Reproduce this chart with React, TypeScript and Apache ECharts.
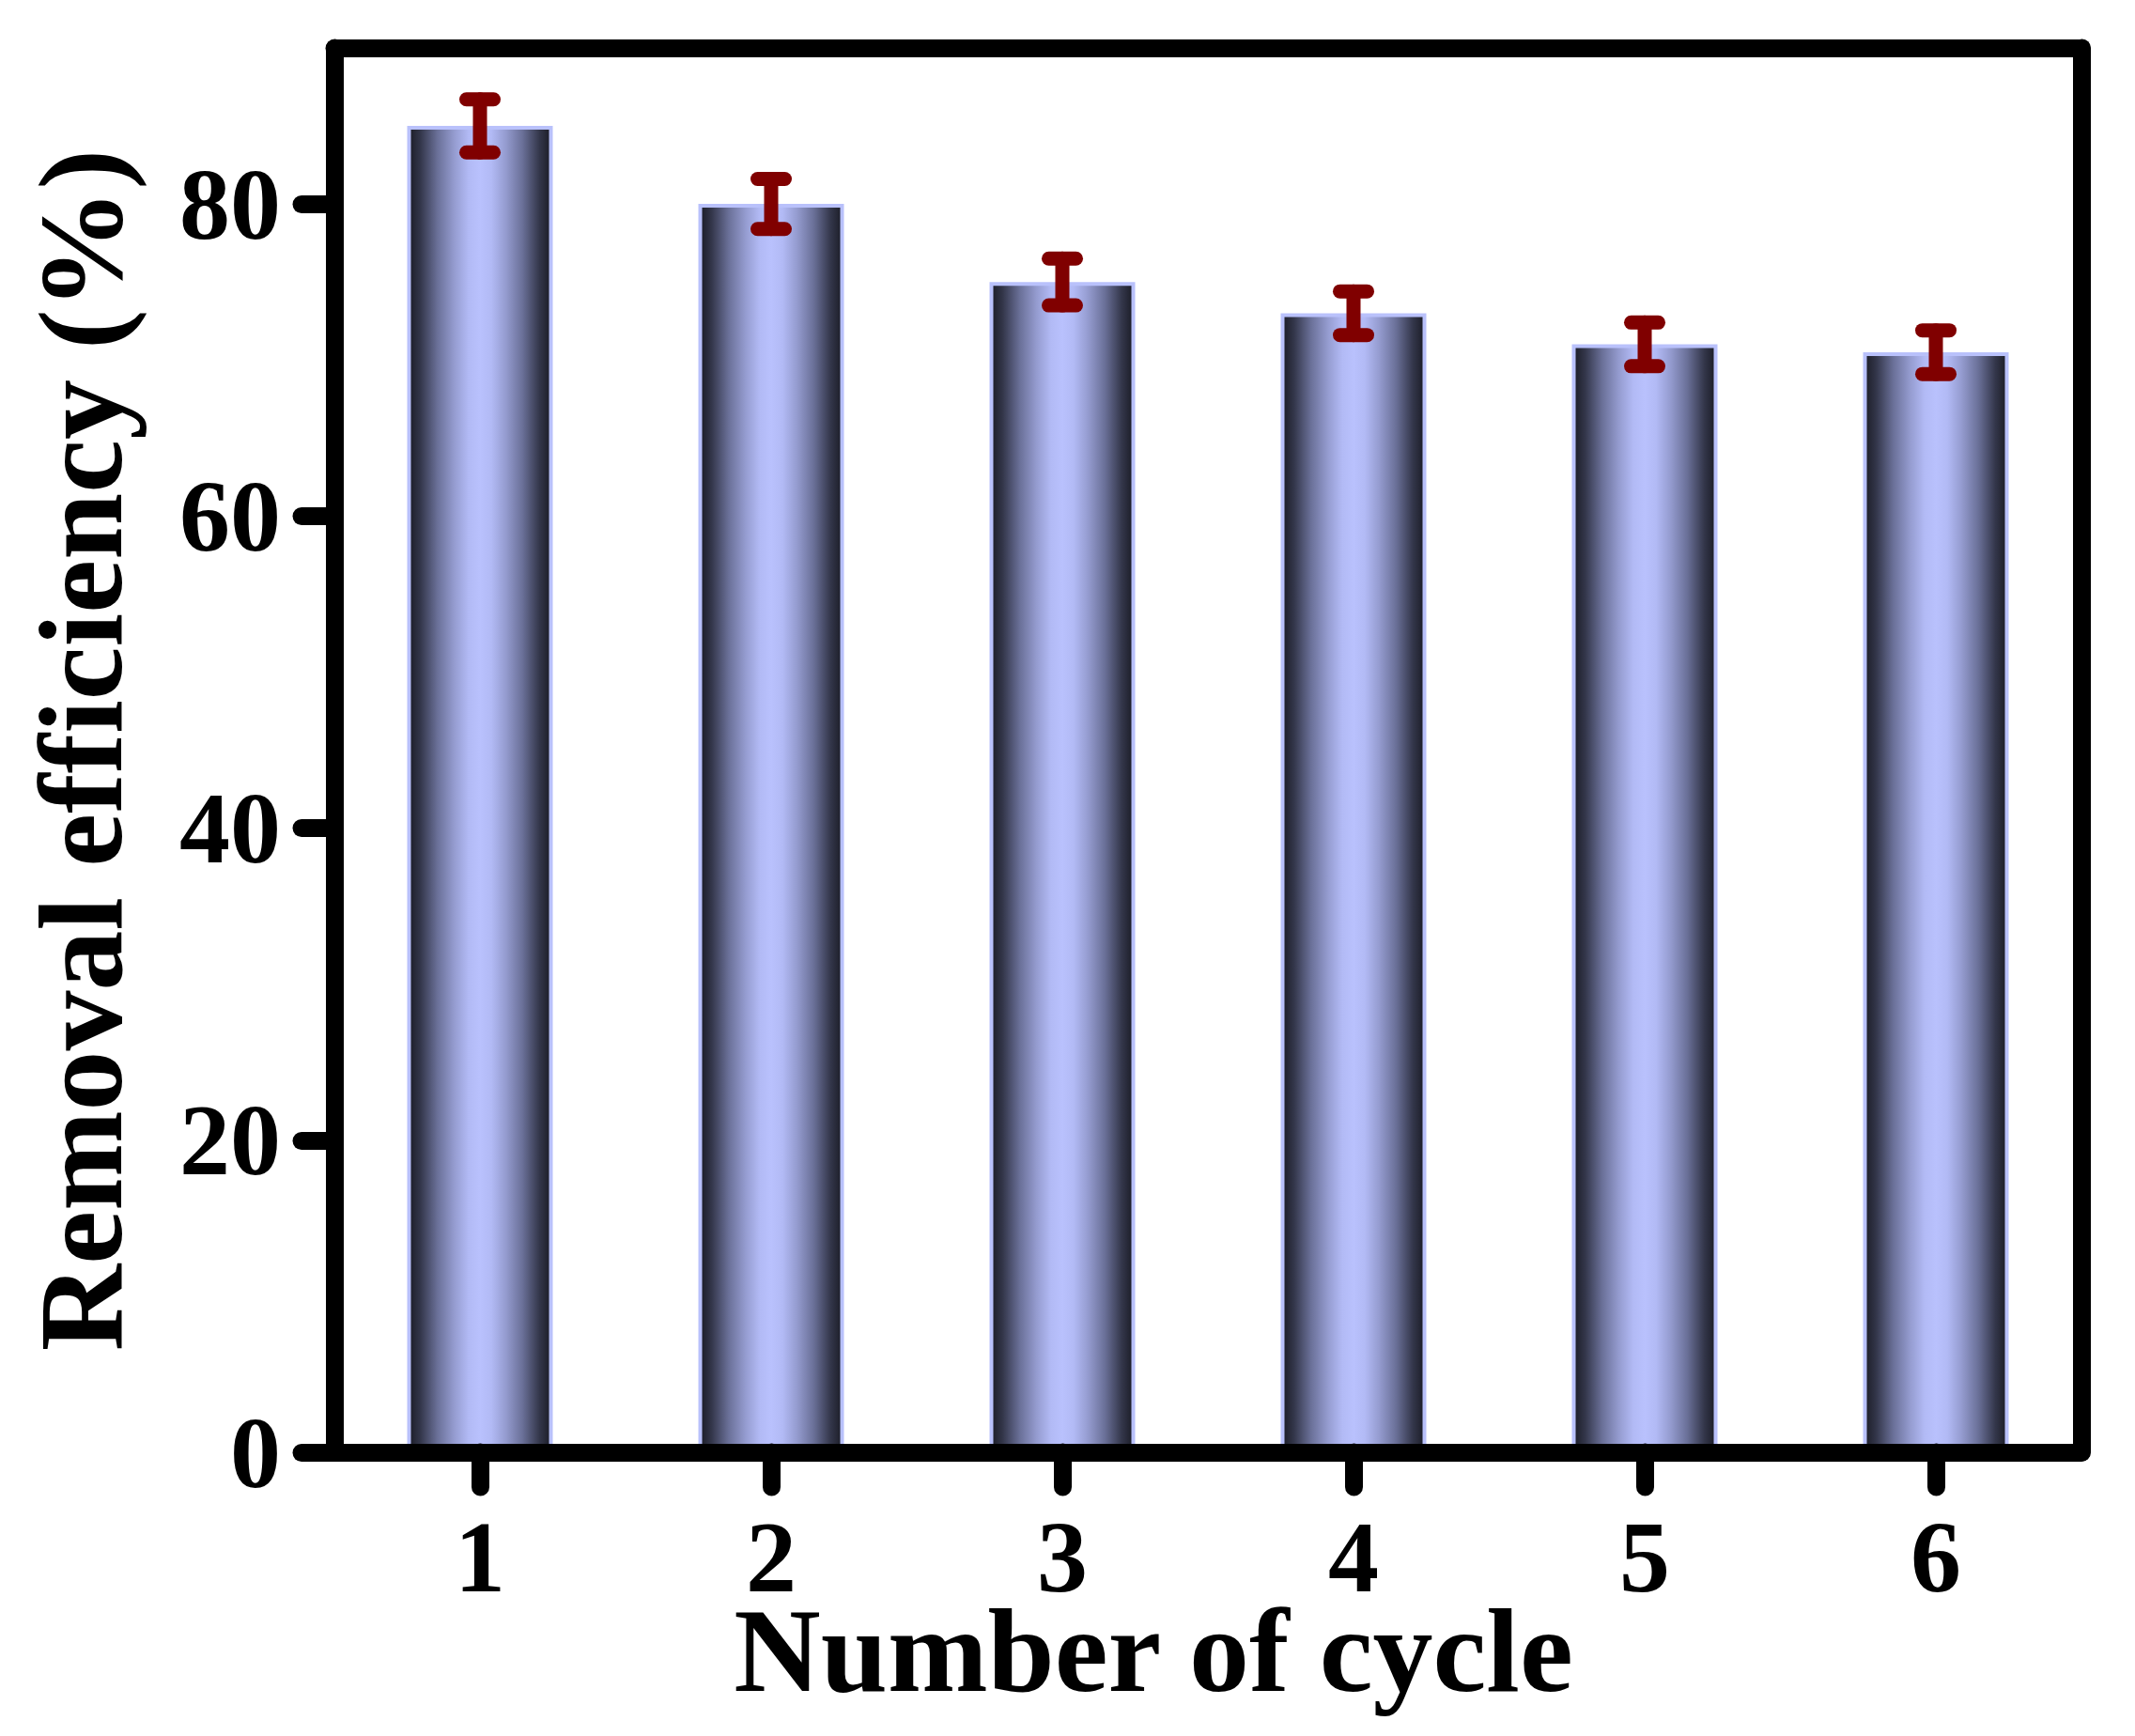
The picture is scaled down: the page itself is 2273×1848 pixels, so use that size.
import React, { useEffect, useRef } from "react";
import * as echarts from "echarts";

// cycle index -> removal efficiency (%) with error bar half-width
const CYCLES = ["1", "2", "3", "4", "5", "6"];
const EFFICIENCY = [85.0, 80.0, 75.0, 73.0, 71.0, 70.5];
const ERRORS = [1.7, 1.6, 1.5, 1.4, 1.4, 1.4];
const Y_TICKS = [0, 20, 40, 60, 80];

const FONT = "'Liberation Serif', 'Times New Roman', serif";
const SPINE = 19;
const ERR_COLOR = "#800000";

const App: React.FC = () => {
  const chartRef = useRef<HTMLDivElement>(null);

  useEffect(() => {
    document.body.style.margin = "0";
    document.body.style.overflow = "hidden";
    if (!chartRef.current) return;
    const chart = echarts.init(chartRef.current, null, { renderer: "svg" });

    const barFill = new echarts.graphic.LinearGradient(0, 0, 1, 0, [
      { offset: 0, color: "#1b1c26" },
      { offset: 0.08, color: "#33364a" },
      { offset: 0.2, color: "#6a7098" },
      { offset: 0.32, color: "#959cd0" },
      { offset: 0.42, color: "#b2baf5" },
      { offset: 0.5, color: "#b9c1fd" },
      { offset: 0.58, color: "#b2baf5" },
      { offset: 0.68, color: "#959cd0" },
      { offset: 0.8, color: "#6a7098" },
      { offset: 0.92, color: "#33364a" },
      { offset: 1, color: "#1b1c26" },
    ]);

    const spineLine = { lineStyle: { color: "#000", width: SPINE, cap: "round" as const } };

    chart.setOption({
      animation: false,
      backgroundColor: "#fff",
      grid: { left: 356, right: 57, top: 51, bottom: 302 },
      xAxis: [
        {
          type: "category",
          data: CYCLES,
          z: 5,
          boundaryGap: true,
          axisLine: { show: true, onZero: false, ...spineLine },
          axisTick: {
            show: true,
            alignWithLabel: true,
            length: 37,
            lineStyle: { color: "#000", width: SPINE, cap: "round" },
          },
          axisLabel: {
            margin: 71,
            fontFamily: FONT,
            fontWeight: "bold",
            fontSize: 108,
            lineHeight: 80,
            color: "#000",
          },
          name: "Number of cycle",
          nameLocation: "middle",
          nameGap: 161,
          nameMoveOverlap: false,
          nameTextStyle: {
            fontFamily: FONT,
            fontWeight: "bold",
            fontSize: 128,
            lineHeight: 100,
            color: "#000",
            padding: [0, 116, 0, 0],
          },
        },
        {
          type: "category",
          data: CYCLES,
          position: "top",
          z: 5,
          axisLine: { show: true, onZero: false, ...spineLine },
          axisTick: { show: false },
          axisLabel: { show: false },
        },
      ],
      yAxis: [
        {
          type: "value",
          min: 0,
          max: 90,
          z: 5,
          axisLine: { show: true, ...spineLine },
          axisTick: {
            show: true,
            length: 35,
            customValues: Y_TICKS,
            lineStyle: { color: "#000", width: SPINE, cap: "round" },
          },
          axisLabel: {
            margin: 57,
            customValues: Y_TICKS,
            fontFamily: FONT,
            fontWeight: "bold",
            fontSize: 108,
            color: "#000",
          },
          splitLine: { show: false },
          name: "Removal efficiency (%)",
          nameLocation: "middle",
          nameRotate: 90,
          nameGap: 206,
          nameMoveOverlap: false,
          nameTextStyle: {
            fontFamily: FONT,
            fontWeight: "bold",
            fontSize: 128,
            color: "#000",
          },
        },
        {
          type: "value",
          min: 0,
          max: 90,
          position: "right",
          z: 5,
          axisLine: { show: true, ...spineLine },
          axisTick: { show: false },
          axisLabel: { show: false },
          splitLine: { show: false },
        },
      ],
      series: [
        {
          type: "bar",
          data: EFFICIENCY,
          barWidth: 155,
          itemStyle: {
            color: barFill,
            borderColor: "#b9c1fb",
            borderWidth: 4,
          },
        },
        {
          type: "custom",
          z: 10,
          data: EFFICIENCY.map((v, i) => [i, v, ERRORS[i]]),
          renderItem: (_params: any, api: any) => {
            const x = api.value(0);
            const y = api.value(1);
            const e = api.value(2);
            const top = api.coord([x, y + e]);
            const bot = api.coord([x, y - e]);
            const half = 14.5;
            const style = { stroke: ERR_COLOR, lineWidth: 15, lineCap: "round" };
            return {
              type: "group",
              children: [
                { type: "line", shape: { x1: top[0], y1: top[1], x2: bot[0], y2: bot[1] }, style },
                { type: "line", shape: { x1: top[0] - half, y1: top[1], x2: top[0] + half, y2: top[1] }, style },
                { type: "line", shape: { x1: bot[0] - half, y1: bot[1], x2: bot[0] + half, y2: bot[1] }, style },
              ],
            };
          },
        },
      ],
    });

    return () => chart.dispose();
  }, []);

  return <div ref={chartRef} style={{ width: 2273, height: 1848 }} />;
};

export default App;
